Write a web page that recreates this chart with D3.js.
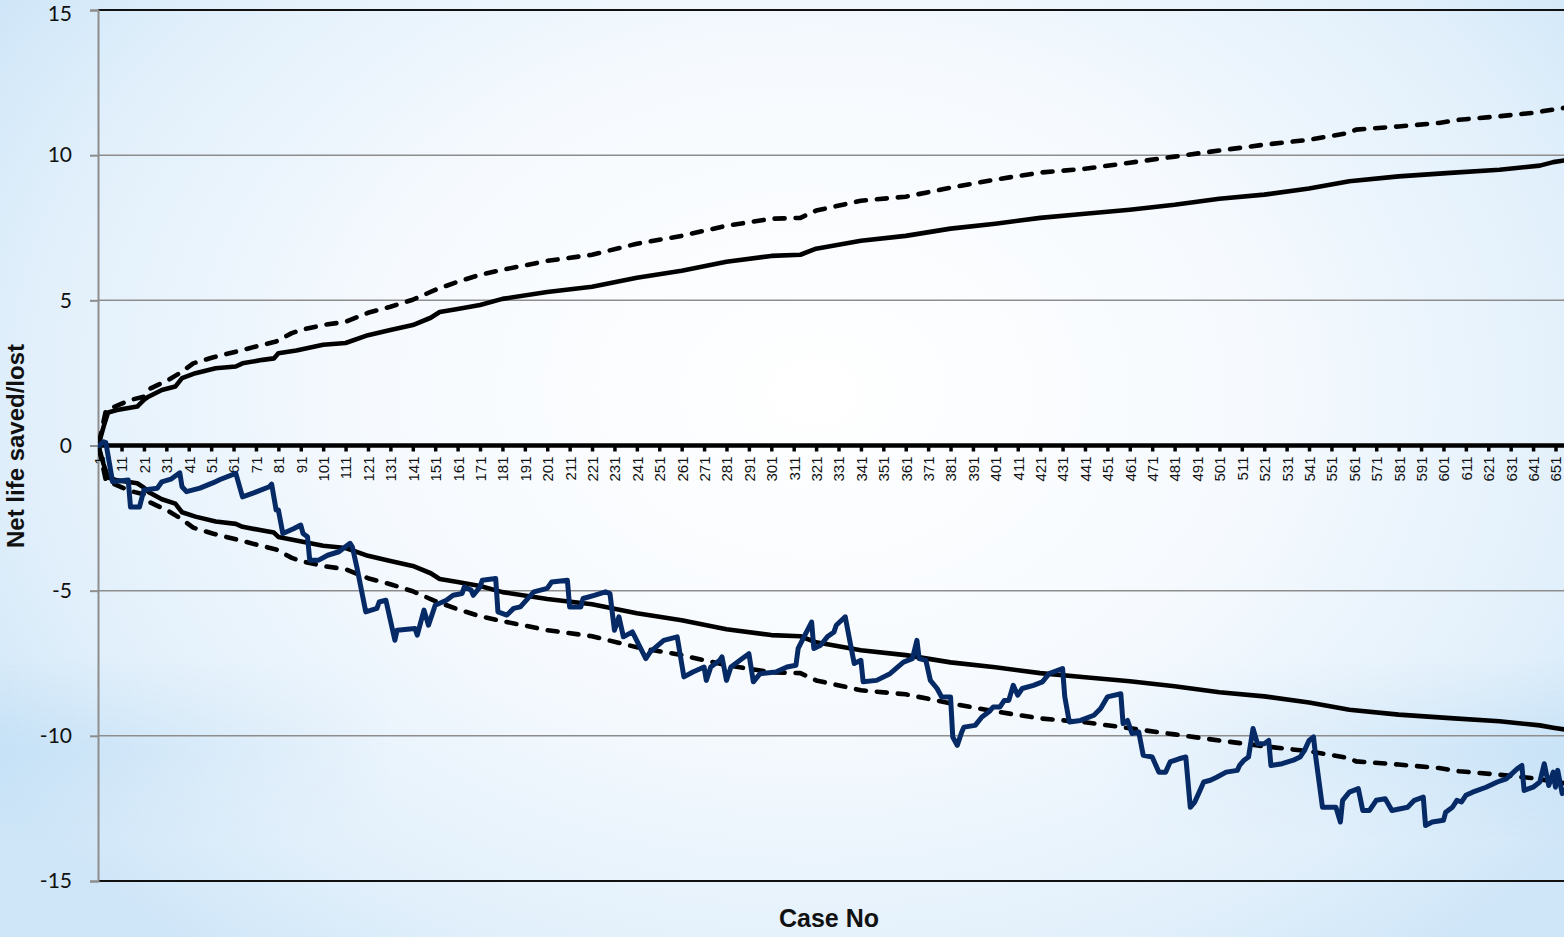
<!DOCTYPE html>
<html>
<head>
<meta charset="utf-8">
<script src="https://cdn.jsdelivr.net/npm/d3@7"></script>
<style>
  html, body { margin: 0; padding: 0; overflow: hidden; background: #ffffff; }
  svg { display: block; }
</style>
</head>
<body>
<svg id="chart" width="1564" height="937"></svg>
<script>
// ---- data -------------------------------------------------------------
// Y axis tick values and X axis category labels (every 10th case)
const yTicks = [-15, -10, -5, 0, 5, 10, 15];
const xTickCases = d3.range(1, 652, 10);

// Upper control limits (solid = inner, dashed = outer)
const upperInnerCase = [1, 3, 5, 9, 18, 21, 23, 29, 35, 38, 44, 53, 62, 65, 74, 79, 81, 89, 101, 111, 121, 131, 141, 149, 153, 161, 171, 181, 201, 221, 241, 261, 281, 301, 314, 321, 341, 361, 381, 401, 421, 441, 461, 481, 501, 521, 541, 559, 581, 604, 626, 644, 650, 655];
const upperInnerValue = [0.1, 0.65, 1.14, 1.22, 1.34, 1.57, 1.68, 1.91, 2.03, 2.32, 2.49, 2.66, 2.72, 2.83, 2.95, 3.0, 3.18, 3.27, 3.47, 3.53, 3.8, 3.98, 4.15, 4.4, 4.6, 4.7, 4.84, 5.05, 5.29, 5.47, 5.78, 6.02, 6.33, 6.53, 6.57, 6.78, 7.05, 7.22, 7.47, 7.64, 7.84, 7.98, 8.12, 8.29, 8.5, 8.64, 8.85, 9.1, 9.27, 9.39, 9.5, 9.64, 9.76, 9.82];

const upperOuterCase = [1, 4, 8, 15, 21, 24, 32, 38, 43, 52, 62, 71, 80, 87, 91, 101, 111, 121, 131, 141, 151, 161, 171, 181, 201, 221, 241, 261, 281, 301, 314, 321, 341, 361, 381, 401, 421, 441, 461, 481, 501, 521, 541, 559, 562, 581, 599, 608, 626, 641, 655];
const upperOuterValue = [0.1, 1.2, 1.34, 1.57, 1.68, 1.97, 2.26, 2.54, 2.83, 3.04, 3.23, 3.41, 3.58, 3.87, 3.98, 4.15, 4.26, 4.57, 4.78, 5.02, 5.36, 5.64, 5.88, 6.05, 6.36, 6.57, 6.95, 7.22, 7.57, 7.81, 7.84, 8.09, 8.43, 8.57, 8.88, 9.16, 9.4, 9.53, 9.74, 9.95, 10.16, 10.36, 10.53, 10.77, 10.88, 10.99, 11.11, 11.22, 11.34, 11.46, 11.63];

// Lower control limits
const lowerInnerCase = [1, 3, 5, 9, 18, 21, 23, 29, 35, 38, 44, 53, 62, 65, 74, 79, 81, 89, 101, 111, 121, 131, 141, 149, 153, 161, 171, 181, 201, 221, 241, 261, 281, 301, 314, 321, 341, 361, 381, 401, 421, 441, 461, 481, 501, 521, 541, 559, 581, 604, 626, 644, 650, 655];
const lowerInnerValue = [-0.1, -0.65, -1.1, -1.2, -1.3, -1.45, -1.6, -1.85, -2.0, -2.3, -2.45, -2.62, -2.7, -2.8, -2.93, -3.0, -3.15, -3.27, -3.45, -3.53, -3.8, -3.98, -4.15, -4.4, -4.6, -4.7, -4.84, -5.05, -5.29, -5.47, -5.78, -6.02, -6.33, -6.53, -6.57, -6.78, -7.05, -7.22, -7.47, -7.64, -7.84, -7.98, -8.12, -8.29, -8.5, -8.64, -8.85, -9.1, -9.27, -9.39, -9.5, -9.64, -9.72, -9.78];

const lowerOuterCase = [1, 4, 8, 15, 21, 24, 32, 38, 43, 52, 62, 71, 80, 87, 91, 101, 111, 121, 131, 141, 151, 161, 171, 181, 201, 221, 241, 261, 281, 301, 314, 321, 341, 361, 381, 401, 421, 441, 461, 481, 501, 521, 541, 559, 562, 581, 599, 608, 626, 641, 655];
const lowerOuterValue = [-0.1, -1.2, -1.34, -1.57, -1.68, -1.97, -2.26, -2.54, -2.83, -3.04, -3.23, -3.41, -3.58, -3.87, -3.98, -4.15, -4.26, -4.57, -4.78, -5.02, -5.36, -5.64, -5.88, -6.05, -6.36, -6.57, -6.95, -7.22, -7.57, -7.81, -7.84, -8.09, -8.43, -8.57, -8.88, -9.16, -9.4, -9.53, -9.74, -9.95, -10.16, -10.36, -10.53, -10.77, -10.88, -10.99, -11.11, -11.22, -11.34, -11.46, -11.63];

// Cumulative net life saved/lost by case
const cusumCase = [1, 3, 4, 7, 14, 15, 19, 21, 27, 29, 33, 37, 38, 40, 46, 52, 55, 62, 65, 70, 77, 78, 80, 81, 83, 88, 91, 92, 94, 95, 99, 103, 108, 113, 114, 116, 120, 125, 126, 129, 133, 134, 142, 143, 146, 148, 151, 156, 159, 163, 164, 167, 168, 171, 172, 178, 179, 183, 186, 189, 195, 201, 203, 210, 211, 216, 217, 222, 227, 229, 231, 233, 235, 239, 245, 247, 253, 259, 262, 266, 271, 272, 274, 278, 279, 281, 283, 287, 291, 293, 296, 303, 308, 312, 313, 316, 319, 320, 323, 326, 329, 330, 334, 336, 338, 341, 342, 348, 354, 360, 364, 366, 367, 370, 372, 375, 377, 381, 382, 384, 386, 387, 392, 395, 398, 400, 403, 405, 407, 409, 411, 413, 418, 422, 425, 431, 432, 434, 439, 445, 448, 451, 457, 458, 460, 462, 465, 467, 471, 474, 477, 479, 483, 486, 488, 490, 492, 494, 497, 500, 504, 509, 510, 512, 514, 516, 518, 521, 523, 524, 529, 534, 537, 539, 541, 543, 544, 547, 553, 555, 556, 559, 563, 565, 568, 571, 575, 578, 585, 588, 592, 593, 596, 601, 602, 605, 607, 609, 611, 614, 620, 625, 629, 634, 636, 637, 641, 644, 646, 648, 650, 651, 652, 654, 655];
const cusumValue = [0, 0.13, 0.1, -1.25, -1.19, -2.12, -2.12, -1.53, -1.47, -1.25, -1.16, -0.94, -1.42, -1.59, -1.47, -1.28, -1.17, -0.96, -1.77, -1.63, -1.42, -1.33, -2.22, -2.22, -3.03, -2.86, -2.74, -3.03, -3.14, -3.95, -3.95, -3.78, -3.66, -3.37, -3.49, -4.18, -5.73, -5.61, -5.39, -5.33, -6.71, -6.36, -6.3, -6.53, -5.67, -6.19, -5.5, -5.33, -5.16, -5.1, -4.87, -4.98, -5.16, -4.87, -4.64, -4.58, -5.73, -5.84, -5.61, -5.56, -5.04, -4.92, -4.7, -4.64, -5.56, -5.56, -5.27, -5.16, -5.04, -5.1, -6.36, -5.9, -6.59, -6.42, -7.34, -7.11, -6.71, -6.59, -7.97, -7.8, -7.63, -8.09, -7.63, -7.4, -7.28, -8.09, -7.63, -7.4, -7.17, -8.14, -7.86, -7.8, -7.63, -7.57, -6.99, -6.53, -6.08, -6.99, -6.88, -6.59, -6.42, -6.19, -5.9, -6.71, -7.51, -7.4, -8.14, -8.09, -7.86, -7.46, -7.34, -6.71, -7.34, -7.4, -8.09, -8.37, -8.66, -8.66, -10.04, -10.33, -9.87, -9.7, -9.64, -9.35, -9.18, -9.01, -9.01, -8.78, -8.78, -8.26, -8.6, -8.37, -8.26, -8.14, -7.86, -7.68, -8.66, -9.52, -9.47, -9.29, -9.06, -8.66, -8.55, -9.58, -9.47, -9.92, -9.87, -10.67, -10.73, -11.25, -11.25, -10.9, -10.79, -10.73, -12.46, -12.28, -11.94, -11.59, -11.53, -11.42, -11.25, -11.19, -11.02, -10.84, -10.73, -9.75, -10.27, -10.27, -10.16, -11.02, -10.96, -10.84, -10.73, -10.5, -10.16, -10.04, -10.73, -12.46, -12.46, -12.97, -12.22, -11.94, -11.82, -12.57, -12.57, -12.22, -12.17, -12.57, -12.46, -12.22, -12.11, -13.09, -12.97, -12.91, -12.63, -12.46, -12.22, -12.28, -12.05, -11.94, -11.77, -11.59, -11.48, -11.13, -11.02, -11.88, -11.77, -11.59, -10.96, -11.71, -11.25, -11.77, -11.19, -11.99, -11.88];

// ---- layout -----------------------------------------------------------
const W = 1564, H = 937;
const plot = { left: 98, right: 1564, top: 10, bottom: 881 };

const svg = d3.select("#chart");
const defs = svg.append("defs");

// soft blue backdrop with a pale centre
const bg = defs.append("radialGradient").attr("id", "bgGlow")
  .attr("cx", "0.52").attr("cy", "0.42").attr("r", "0.62")
  .attr("gradientTransform", "translate(0.52,0.42) scale(1,1.25) translate(-0.52,-0.42)");
bg.append("stop").attr("offset", "0").attr("stop-color", "#ffffff");
bg.append("stop").attr("offset", "0.45").attr("stop-color", "#f6fafe");
bg.append("stop").attr("offset", "0.8").attr("stop-color", "#e2f0fb");
bg.append("stop").attr("offset", "1").attr("stop-color", "#cfe6f8");

const band = defs.append("linearGradient").attr("id", "band")
  .attr("x1", 0).attr("y1", 0).attr("x2", 0).attr("y2", 1);
band.append("stop").attr("offset", "0").attr("stop-color", "#bcdcf5").attr("stop-opacity", 0);
band.append("stop").attr("offset", "0.5").attr("stop-color", "#bcdcf5").attr("stop-opacity", 0.55);
band.append("stop").attr("offset", "1").attr("stop-color", "#bcdcf5").attr("stop-opacity", 0);

const bandMask = defs.append("linearGradient").attr("id", "bandMaskGrad")
  .attr("x1", 0).attr("y1", 0).attr("x2", 1).attr("y2", 0);
bandMask.append("stop").attr("offset", "0").attr("stop-color", "#fff");
bandMask.append("stop").attr("offset", "0.25").attr("stop-color", "#000");
bandMask.append("stop").attr("offset", "0.7").attr("stop-color", "#000");
bandMask.append("stop").attr("offset", "1").attr("stop-color", "#fff");
defs.append("mask").attr("id", "bandMask")
  .append("rect").attr("width", W).attr("height", H).attr("fill", "url(#bandMaskGrad)");

svg.append("rect").attr("width", W).attr("height", H).attr("fill", "url(#bgGlow)");
svg.append("rect").attr("x", 0).attr("y", 660).attr("width", W).attr("height", 180)
  .attr("fill", "url(#band)").attr("mask", "url(#bandMask)");

defs.append("clipPath").attr("id", "plotClip")
  .append("rect").attr("x", plot.left).attr("y", 0)
  .attr("width", plot.right - plot.left).attr("height", H);

// ---- scales -----------------------------------------------------------
const x = d3.scaleLinear().domain([0.5, 654.8]).range([plot.left, plot.right]);
const y = d3.scaleLinear().domain([-15, 15]).range([plot.bottom, plot.top]);

// ---- gridlines --------------------------------------------------------
const grid = svg.append("g");
grid.selectAll("line")
  .data(yTicks.filter(v => v !== 0))
  .join("line")
  .attr("x1", plot.left).attr("x2", plot.right)
  .attr("y1", d => y(d)).attr("y2", d => y(d))
  .attr("stroke", d => Math.abs(d) === 15 ? "#111" : "#8d8d8d")
  .attr("stroke-width", d => Math.abs(d) === 15 ? 2 : 1.5);

// ---- y axis -----------------------------------------------------------
const yAxis = svg.append("g")
  .attr("transform", `translate(${plot.left},0)`)
  .call(d3.axisLeft(y).tickValues(yTicks).tickSize(8).tickPadding(18).tickFormat(d3.format("d")));
yAxis.select(".domain").attr("stroke", "#8d8d8d").attr("stroke-width", 2);
yAxis.selectAll(".tick line").attr("stroke", "#8d8d8d").attr("stroke-width", 2);
yAxis.selectAll(".tick text")
  .attr("fill", "#111")
  .attr("dy", d => d === 15 ? "0.5em" : "0.32em")
  .style("font-family", "Lato, 'Open Sans', sans-serif")
  .style("font-size", "21px")
  .text(d => d < 0 ? "-" + Math.abs(d) : d);

// ---- x axis (through zero) ---------------------------------------------
const xAxis = svg.append("g")
  .attr("transform", `translate(0,${y(0)})`)
  .call(d3.axisBottom(x).tickValues(xTickCases).tickSize(6).tickSizeOuter(0));
xAxis.select(".domain").attr("stroke", "#000").attr("stroke-width", 4.5)
  .attr("d", `M${plot.left},0H${plot.right}`);
xAxis.selectAll(".tick line").attr("stroke", "#000").attr("stroke-width", 3.5);
xAxis.selectAll(".tick text")
  .attr("fill", "#111")
  .attr("transform", "rotate(-90)")
  .attr("text-anchor", "end")
  .attr("x", -11).attr("y", 0).attr("dy", "0.36em")
  .style("font-family", "'Liberation Sans', Arial, sans-serif")
  .style("font-size", "15px");

// ---- series -----------------------------------------------------------
const lineGen = d3.line().x(d => x(d[0])).y(d => y(d[1]));
const zip = (cs, vs) => cs.map((c, i) => [c, vs[i]]);
const series = svg.append("g").attr("clip-path", "url(#plotClip)");

function drawLine(pts, color, width, dash) {
  series.append("path")
    .attr("d", lineGen(pts))
    .attr("fill", "none")
    .attr("stroke", color)
    .attr("stroke-width", width)
    .attr("stroke-linejoin", "round")
    .attr("stroke-linecap", "round")
    .attr("stroke-dasharray", dash || null);
}

drawLine(zip(upperOuterCase, upperOuterValue), "#000", 4.6, "10,11");
drawLine(zip(lowerOuterCase, lowerOuterValue), "#000", 4.6, "10,11");
drawLine(zip(upperInnerCase, upperInnerValue), "#000", 4.6);
drawLine(zip(lowerInnerCase, lowerInnerValue), "#000", 4.6);
drawLine(zip(cusumCase, cusumValue), "#062a66", 5);

// ---- axis titles ------------------------------------------------------
svg.append("text")
  .attr("x", 829).attr("y", 927)
  .attr("text-anchor", "middle")
  .style("font-family", "'Liberation Sans', Arial, sans-serif")
  .style("font-weight", "bold")
  .style("font-size", "25px")
  .attr("fill", "#111")
  .text("Case No");

svg.append("text")
  .attr("transform", "translate(24,446) rotate(-90)")
  .attr("text-anchor", "middle")
  .style("font-family", "'Liberation Sans', Arial, sans-serif")
  .style("font-weight", "bold")
  .style("font-size", "24px")
  .attr("fill", "#111")
  .text("Net life saved/lost");
</script>
</body>
</html>
